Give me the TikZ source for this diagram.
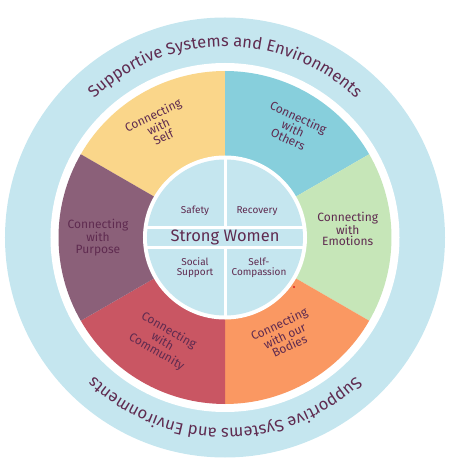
\documentclass[tikz,border=0pt]{standalone}
\usepackage{fontspec}
\setmainfont{Fira Sans}
\usetikzlibrary{decorations.text}
\definecolor{ringblue}{HTML}{C5E6EF}
\definecolor{secyel}{HTML}{FAD68A}
\definecolor{secteal}{HTML}{87CFDC}
\definecolor{secgrn}{HTML}{C6E6B8}
\definecolor{secorg}{HTML}{FA9862}
\definecolor{secred}{HTML}{C95663}
\definecolor{secpur}{HTML}{8B6079}
\definecolor{txt}{HTML}{5F2B50}
\definecolor{dotred}{HTML}{E0201E}
\begin{document}
\begin{tikzpicture}[x=1pt,y=1pt,
  seclabel/.style={align=center, text=txt, font=\fontsize{12}{11.5}\selectfont, inner sep=0pt},
  quadlabel/.style={align=center, text=txt, font=\fontsize{10}{10}\selectfont, inner sep=0pt},
  titlelabel/.style={text=txt, font=\fontsize{16.5}{18}\selectfont, inner sep=0pt},
  divider/.style={white, line width=3pt}]
\useasboundingbox (-225,-230.5) rectangle (232,237.5);
% outer ring
\fill[ringblue] (0,0) circle[radius=220];
\fill[white] (0,0) circle[radius=174.5];
% sectors
\foreach \a/\c in {90/secyel,30/secteal,-30/secgrn,-90/secorg,-150/secred,150/secpur}
  \fill[\c] (0,0) -- (\a:166.5) arc[start angle=\a, end angle=\a+60, radius=166.5] -- cycle;
% inner circle
\fill[white] (0,0) circle[radius=82];
\fill[ringblue] (0,0) circle[radius=78];
\draw[divider] (-80,10.3) -- (80,10.3);
\draw[divider] (-80,-10.3) -- (80,-10.3);
\draw[divider] (0,10.3) -- (0,80);
\draw[divider] (0,-10.3) -- (0,-80);
% ring texts
\path[decorate, decoration={text along path, text align=center, text color=txt,
  text={|\fontsize{16.5}{18}\selectfont|Supportive Systems and Environments}}]
  (180:191) arc[start angle=180, end angle=0, radius=191];
\path[decorate, decoration={text along path, text align=center, text color=txt,
  text={|\fontsize{16.5}{18}\selectfont|Supportive Systems and Environments}}]
  (0:191) arc[start angle=0, end angle=-180, radius=191];
% sector labels
\node[seclabel, rotate=25]  (self)   at (121:130) {Connecting\\with\\Self};
\node[seclabel, rotate=-25] (others) at (58:129)  {Connecting\\with\\Others};
\node[seclabel]             (emo)    at (4:123)   {Connecting\\with\\Emotions};
\node[seclabel, rotate=25]  (bodies) at (-58.7:114) {Connecting\\with our\\Bodies};
\node[seclabel, rotate=-30] (comm)   at (239:121) {Connecting\\with\\Community};
\node[seclabel]             (purp)   at (180:127) {Connecting\\with\\Purpose};
% centre
\node[titlelabel] (strong) at (0,0) {Strong Women};
\node[quadlabel] (safety)   at (-30,26.5) {Safety};
\node[quadlabel] (recovery) at (32,26.5)  {Recovery};
\node[quadlabel] (social)   at (-30,-30)  {Social\\Support};
\node[quadlabel] (selfc)    at (34,-30)   {Self-\\Compassion};
\fill[dotred] (69,-49.5) circle[radius=1.2];
\end{tikzpicture}
\end{document}
